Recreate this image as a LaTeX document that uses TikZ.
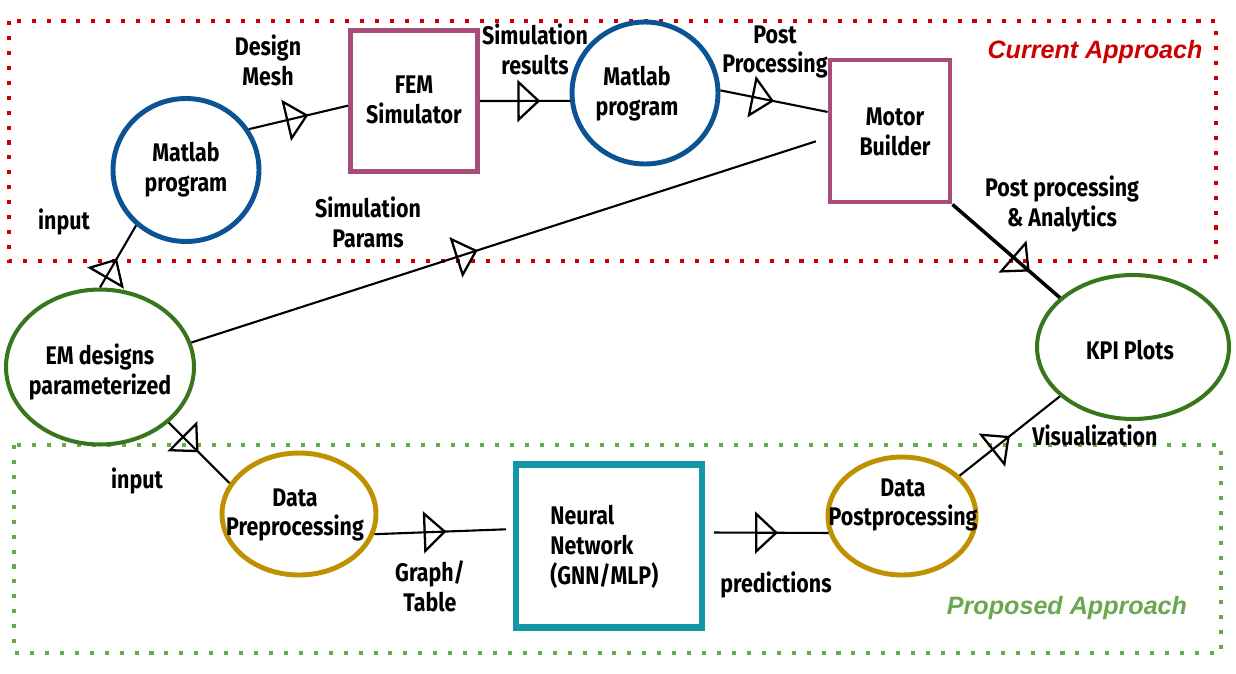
\documentclass[tikz,border=0pt]{standalone}
\usepackage{fontspec}
\setmainfont{Fira Sans}[FakeStretch=0.84]
\newfontfamily\approachfont{Liberation Sans}
\usetikzlibrary{shapes.geometric, arrows.meta, decorations.markings}

\definecolor{curred}{HTML}{CC0000}
\definecolor{propgreen}{HTML}{6AA84F}
\definecolor{matblue}{HTML}{0B5394}
\definecolor{boxmagenta}{HTML}{A64D79}
\definecolor{emgreen}{HTML}{38761D}
\definecolor{datagold}{HTML}{BF9000}
\definecolor{nnteal}{HTML}{1497A4}

\tikzset{
  lbl/.style = {font=\fontsize{14.5}{17}\selectfont\bfseries, align=center, inner sep=0pt},
  approach/.style = {font=\approachfont\fontsize{14.3}{16}\selectfont\bfseries\itshape, inner sep=0pt},
  blob/.style = {ellipse, draw=#1, line width=2.8pt, inner sep=0pt},
  block/.style = {rectangle, draw=#1, line width=2.8pt, inner sep=0pt},
  flow/.style = {line width=1.2pt, postaction=decorate,
    decoration={markings, mark=at position #1 with
      {\arrow{Triangle[open, length=13pt, width=24pt, line width=1.3pt]}}}},
  flow/.default = 0.5,
  dots/.style = {draw=#1, line width=2.3pt, dash pattern=on 2.3pt off 6.2pt}
}

\begin{document}
\begin{tikzpicture}
        [x = .02cm, y = -.02cm]

        \useasboundingbox (0,0) rectangle (1236,673);

        % the two approaches
        \draw[dots = curred] (9,21) rectangle (1216,261);
        \draw[dots = propgreen] (14,445) rectangle (1221,653);
        \node[approach, text = curred] (curtitle) at (1095,52) {Current Approach};
        \node[approach, text = propgreen] (proptitle) at (1067,608) {Proposed Approach};

        % shapes
        \node[blob = matblue, minimum width = 2.92cm, minimum height = 2.86cm] (matA) at (186,170) {};
        \node[blob = matblue, minimum width = 2.92cm, minimum height = 2.84cm] (matB) at (645,93) {};
        \node[blob = emgreen, line width = 2.3pt, minimum width = 3.76cm, minimum height = 3.1cm] (em) at (100,367) {};
        \node[blob = emgreen, line width = 2.3pt, minimum width = 3.84cm, minimum height = 2.88cm] (kpi) at (1133,347) {};
        \node[blob = datagold, minimum width = 3.08cm, minimum height = 2.44cm] (pre) at (299,514) {};
        \node[blob = datagold, minimum width = 2.96cm, minimum height = 2.36cm] (post) at (902,516) {};
        \node[block = boxmagenta, minimum width = 2.54cm, minimum height = 2.82cm] (fem) at (414,101) {};
        \node[block = boxmagenta, minimum width = 2.4cm, minimum height = 2.84cm] (motor) at (890,131) {};
        \node[block = nnteal, line width = 3.6pt, minimum width = 3.72cm, minimum height = 3.26cm] (nn) at (609,546) {};

        % texts of the shapes
        \node[lbl] (matAtext) at (186,170) {Matlab\\program};
        \node[lbl] (matBtext) at (637,94) {Matlab\\program};
        \node[lbl] (emtext) at (100,372) {EM designs\\parameterized};
        \node[lbl] (kpitext) at (1130,350) {KPI Plots};
        \node[lbl] (pretext) at (295,515) {Data\\Preprocessing};
        \node[lbl] (posttext) at (903,505) {Data\\Postprocessing};
        \node[lbl] (femtext) at (414,100) {FEM\\Simulator};
        \node[lbl] (motortext) at (895,132) {Motor\\Builder};
        \node[lbl, align = left, anchor = west] (nntext) at (550,547) {Neural\\Network\\(GNN/MLP)};

        % connectors
        \draw[flow = .47] (em.90) -- (matA.228);
        \draw[flow = .6] (matA.33) -- (fem.184);
        \draw[flow = .67] (fem.east) -- (matB.186);
        \draw[flow = .5] (matB.2) -- (motor.163);
        \draw[flow = .45, shorten >= 7pt] (em.15) -- (motor.186);
        \draw[flow = .72, line width = 2pt] (motor.south east) -- (kpi.146);
        \draw[flow = .49] (em.321) -- (pre.156);
        \draw[flow = .52, shorten >= 4pt] (pre.345) -- (nn.170);
        \draw[flow = .59, shorten <= 5pt] (nn.8) -- (post.193);
        \draw[flow = .5] (post.35) -- (kpi.214);

        % connector labels
        \node[lbl] (meshlbl) at (268,60) {Design\\Mesh};
        \node[lbl] (resultslbl) at (535,49) {Simulation\\results};
        \node[lbl] (postproclbl) at (775,52) {Post\\Processing};
        \node[lbl] (paramslbl) at (368,222) {Simulation\\Params};
        \node[lbl] (inputAlbl) at (64,222) {input};
        \node[lbl] (analyticslbl) at (1062,204) {Post processing\\\& Analytics};
        \node[lbl] (vislbl) at (1095,435) {Visualization};
        \node[lbl] (inputBlbl) at (137,481) {input};
        \node[lbl] (tablelbl) at (430,586) {Graph/\\Table};
        \node[lbl] (predlbl) at (776,585) {predictions};
      \end{tikzpicture}
\end{document}
